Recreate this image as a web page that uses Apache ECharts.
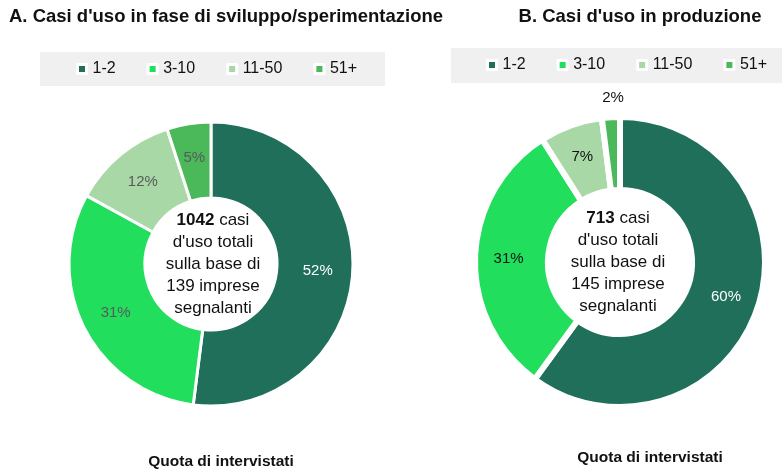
<!DOCTYPE html>
<html>
<head>
<meta charset="utf-8">
<script src="https://cdn.jsdelivr.net/npm/echarts@6/dist/echarts.min.js"></script>
<style>
  html, body { margin: 0; padding: 0; background: #fff; }
  #chart { width: 782px; height: 471px; }
</style>
</head>
<body>
<div id="chart"></div>
<script>
(function () {

  // dati
  var categories = ['1-2', '3-10', '11-50', '51+'];
  var sviluppo = [52, 31, 12, 5];
  var produzione = [60, 31, 7, 2];
  var casiTotali = [1042, 713];
  var impreseSegnalanti = [139, 145];

  var colors = ['#1f6f5b', '#21de5d', '#a8d8a6', '#4bb95a'];
  var font = 'Liberation Sans, Arial, sans-serif';

  var chart = echarts.init(document.getElementById('chart'), null, { renderer: 'canvas' });

  function buildData(values, labelColors, extra) {
    return values.map(function (v, i) {
      var item = {
        name: categories[i],
        value: v,
        itemStyle: { color: colors[i] },
        label: { color: labelColors[i] }
      };
      if (extra && extra[i]) {
        Object.assign(item.label, extra[i]);
      }
      return item;
    });
  }

  function centerText(i) {
    return '{b|' + casiTotali[i] + '} casi\nd\'uso totali\nsulla base di\n' +
      impreseSegnalanti[i] + ' imprese\nsegnalanti';
  }

  var centerRich = {
    b: { fontFamily: font, fontSize: 17, fontWeight: 'bold', color: '#111', lineHeight: 22 }
  };

  function legendFor(left, top) {
    return {
      data: categories,
      left: left,
      top: top,
      orient: 'horizontal',
      padding: 0,
      itemGap: 31,
      itemWidth: 9,
      itemHeight: 9,
      icon: 'rect',
      selectedMode: false,
      itemStyle: { borderColor: '#fff', borderWidth: 3 },
      textStyle: { fontFamily: font, fontSize: 16, color: '#111', padding: [0, 0, 0, 1] }
    };
  }

  var option = {
    backgroundColor: '#fff',
    animation: false,
    graphic: [
      { type: 'rect', shape: { x: 40, y: 52, width: 345, height: 34 }, style: { fill: '#f0f0f0' }, z: -1 },
      { type: 'rect', shape: { x: 451, y: 48, width: 340, height: 35 }, style: { fill: '#f0f0f0' }, z: -1 }
    ],
    title: [
      {
        text: 'A. Casi d\'uso in fase di sviluppo/sperimentazione',
        left: 9, top: 7, padding: 0,
        textStyle: { fontFamily: font, fontSize: 18.5, fontWeight: 'bold', color: '#111' }
      },
      {
        text: 'B. Casi d\'uso in produzione',
        left: 640, top: 7, padding: 0, textAlign: 'center',
        textStyle: { fontFamily: font, fontSize: 18.5, fontWeight: 'bold', color: '#111' }
      },
      {
        text: centerText(0),
        left: 213, top: 264, padding: 0, textAlign: 'center', textVerticalAlign: 'middle',
        textStyle: { fontFamily: font, fontSize: 17, fontWeight: 'normal', color: '#111', lineHeight: 22, rich: centerRich }
      },
      {
        text: centerText(1),
        left: 618, top: 262, padding: 0, textAlign: 'center', textVerticalAlign: 'middle',
        textStyle: { fontFamily: font, fontSize: 17, fontWeight: 'normal', color: '#111', lineHeight: 22, rich: centerRich }
      },
      {
        text: 'Quota di intervistati',
        left: 221, top: 454, padding: 0, textAlign: 'center',
        textStyle: { fontFamily: font, fontSize: 15.5, fontWeight: 'bold', color: '#111' }
      },
      {
        text: 'Quota di intervistati',
        left: 650, top: 450, padding: 0, textAlign: 'center',
        textStyle: { fontFamily: font, fontSize: 15.5, fontWeight: 'bold', color: '#111' }
      }
    ],
    legend: [legendFor(76, 61), legendFor(486, 57)],
    series: [
      {
        name: 'Sviluppo',
        type: 'pie',
        center: [211, 264],
        radius: [66, 142],
        startAngle: 90,
        clockwise: true,
        avoidLabelOverlap: false,
        itemStyle: { borderColor: '#fff', borderWidth: 3 },
        label: {
          show: true, position: 'inside', formatter: '{c}%',
          fontFamily: font, fontSize: 15
        },
        labelLine: { show: false },
        emphasis: { disabled: true },
        data: buildData(sviluppo, ['#ffffff', '#5a5a5a', '#5a5a5a', '#5a5a5a'])
      },
      {
        name: 'Produzione',
        type: 'pie',
        center: [620, 262],
        radius: [72, 145],
        startAngle: 90,
        clockwise: true,
        avoidLabelOverlap: false,
        itemStyle: { borderColor: '#fff', borderWidth: 6 },
        label: {
          show: true, position: 'inside', formatter: '{c}%',
          fontFamily: font, fontSize: 15
        },
        labelLine: { show: false },
        emphasis: { disabled: true },
        data: buildData(produzione, ['#ffffff', '#111', '#111', '#111'],
          [null, null, null, { offset: [0, -53] }])
      }
    ]
  };

  chart.setOption(option);
}());
</script>
</body>
</html>
